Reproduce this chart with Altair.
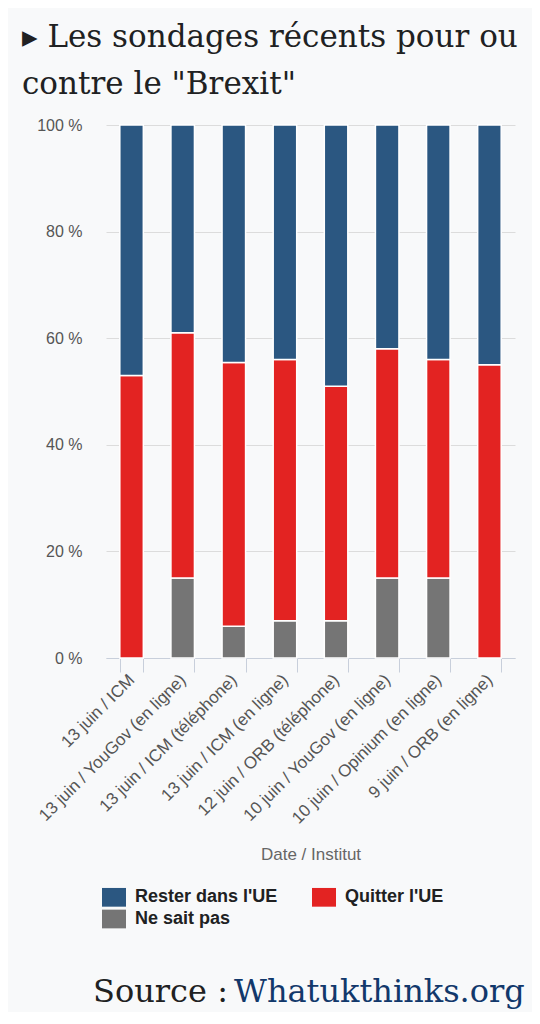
import pandas as pd
import altair as alt

# Sondages récents (en %)
instituts = [
    "13 juin / ICM",
    "13 juin / YouGov (en ligne)",
    "13 juin / ICM (téléphone)",
    "13 juin / ICM (en ligne)",
    "12 juin / ORB (téléphone)",
    "10 juin / YouGov (en ligne)",
    "10 juin / Opinium (en ligne)",
    "9 juin / ORB (en ligne)",
]
rester = [47, 39, 45, 44, 49, 42, 44, 45]
quitter = [53, 46, 50, 49, 44, 43, 41, 55]
ne_sait_pas = [0, 15, 6, 7, 7, 15, 15, 0]

reponses = ["Rester dans l'UE", "Quitter l'UE", "Ne sait pas"]
couleurs = ["#2b5781", "#e32322", "#757575"]

rows = []
for i, inst in enumerate(instituts):
    rows.append({"institut": inst, "reponse": "Ne sait pas", "valeur": ne_sait_pas[i], "ordre": 0})
    rows.append({"institut": inst, "reponse": "Quitter l'UE", "valeur": quitter[i], "ordre": 1})
    rows.append({"institut": inst, "reponse": "Rester dans l'UE", "valeur": rester[i], "ordre": 2})
df = pd.DataFrame(rows)

serif = "DejaVu Serif"
sans = "Liberation Sans"

bars = (
    alt.Chart(df)
    .mark_bar(stroke="white", strokeWidth=1.5)
    .encode(
        alt.X("institut:N", sort=instituts)
        .scale(paddingInner=0.54, paddingOuter=0.27)
        .axis(
            title="Date / Institut",
            labelAngle=-45,
            labelAlign="right",
            labelBaseline="middle",
            labelPadding=5,
            labelLimit=0,
            labelFontSize=17,
            labelColor="#555555",
            labelFont=sans,
            tickSize=14,
            tickBand="extent",
            tickColor="#c8cfdb",
            domainColor="#c8cfdb",
            titleFont=sans,
            titleFontSize=17,
            titleFontWeight="normal",
            titleColor="#666666",
            titlePadding=20,
        ),
        alt.Y("valeur:Q")
        .stack("normalize")
        .scale(domain=[0, 1])
        .axis(
            title=None,
            values=[0, 0.2, 0.4, 0.6, 0.8, 1],
            labelExpr="round(datum.value * 100) + ' %'",
            domain=False,
            ticks=False,
            labelPadding=24,
            labelFontSize=16,
            labelColor="#555555",
            labelFont=sans,
            gridColor="#dcdcdc",
        ),
        color=alt.Color("reponse:N")
        .scale(domain=reponses, range=couleurs)
        .legend(
            title=None,
            orient="none",
            legendX=-4,
            legendY=760,
            direction="horizontal",
            columns=2,
            columnPadding=34,
            rowPadding=0,
            symbolType="M-1,-0.78L1,-0.78L1,0.78L-1,0.78Z",
            symbolSize=576,
            symbolStrokeWidth=0,
            symbolOpacity=1,
            labelOffset=9,
            labelFont=sans,
            labelFontSize=18,
            labelFontWeight="bold",
            labelColor="#202122",
            padding=0,
        ),
        order=alt.Order("ordre:Q", sort="ascending"),
    )
)

source_a = (
    alt.Chart(pd.DataFrame({"texte": ["Source :"]}))
    .mark_text(align="left", baseline="alphabetic", font=serif, fontSize=32, color="#202122")
    .encode(x=alt.value(-13), y=alt.value(877), text="texte:N")
)
source_b = (
    alt.Chart(pd.DataFrame({"texte": ["Whatukthinks.org"]}))
    .mark_text(align="left", baseline="alphabetic", font=serif, fontSize=32, color="#12386b")
    .encode(x=alt.value(128), y=alt.value(877), text="texte:N")
)

chart = (
    alt.layer(bars, source_a, source_b)
    .properties(
        width=409,
        height=533,
        autosize=alt.AutoSizeParams(type="none"),
        padding={"left": 98, "top": 117, "right": 17, "bottom": 354},
        title=alt.TitleParams(
            ["▸ Les sondages récents pour ou", 'contre le "Brexit"'],
            anchor="start",
            frame="group",
            dx=-84,
            offset=16,
            font=serif,
            fontSize=31,
            fontWeight="normal",
            lineHeight=47,
            color="#202122",
        ),
    )
    .configure(background="#f8f9fa")
    .configure_view(stroke=None)
)

chart.save("out.html", embed_options={"renderer": "svg", "actions": False})
